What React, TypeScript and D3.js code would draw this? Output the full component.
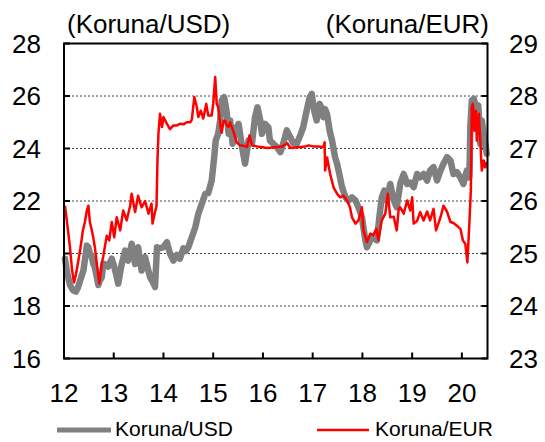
import React from "react";
import * as d3 from "d3";

// Koruna per USD (left axis) — decimal year (two-digit), value
const usdDates = [12.02,12.06,12.12,12.18,12.24,12.28,12.33,12.39,12.46,12.49,12.52,12.56,12.59,12.62,12.69,12.72,12.76,12.79,12.82,12.89,12.96,13.01,13.06,13.09,13.16,13.23,13.29,13.36,13.43,13.49,13.56,13.63,13.69,13.73,13.79,13.83,13.87,13.93,14.00,14.07,14.13,14.20,14.27,14.33,14.40,14.45,14.50,14.57,14.64,14.70,14.77,14.84,14.90,14.97,15.02,15.05,15.10,15.14,15.17,15.22,15.27,15.31,15.34,15.39,15.44,15.51,15.58,15.64,15.71,15.78,15.84,15.89,15.94,15.98,16.04,16.11,16.14,16.21,16.28,16.35,16.41,16.48,16.55,16.61,16.68,16.75,16.81,16.88,16.94,16.98,17.03,17.08,17.14,17.19,17.22,17.25,17.29,17.34,17.39,17.45,17.49,17.55,17.59,17.66,17.72,17.79,17.86,17.92,17.99,18.02,18.06,18.09,18.16,18.22,18.29,18.34,18.39,18.44,18.49,18.56,18.63,18.69,18.76,18.83,18.90,18.96,19.03,19.10,19.16,19.23,19.30,19.36,19.43,19.50,19.57,19.63,19.70,19.77,19.83,19.90,19.97,20.03,20.10,20.15,20.17,20.20,20.24,20.28,20.33,20.37,20.40,20.44,20.50];
const usdValues = [19.8,19.3,18.8,18.6,18.55,18.7,19.0,19.35,20.3,20.24,20.0,19.86,19.6,19.48,18.8,18.97,19.1,19.6,19.6,19.5,19.8,19.5,19.1,18.85,19.6,20.11,19.73,20.37,19.6,20.24,19.35,19.86,19.4,19.1,18.9,18.72,20.24,20.2,20.24,20.43,20.0,19.73,19.95,19.8,20.2,20.1,20.24,20.62,21.0,21.51,21.89,22.27,22.3,22.78,23.67,24.3,24.56,25.07,25.83,25.95,25.4,24.56,25.07,24.18,24.69,24.94,24.05,23.42,24.3,24.2,25.19,25.57,25.13,24.56,24.94,24.8,24.3,24.18,24.05,23.86,24.2,24.69,24.43,24.2,24.18,24.5,24.81,25.45,25.95,26.08,25.45,25.07,25.7,25.5,25.19,25.5,25.3,24.69,24.3,23.67,23.42,22.9,22.53,22.14,22.02,22.14,22.02,21.76,21.38,21.0,20.5,20.24,20.5,20.62,20.5,21.38,22.14,22.4,22.02,22.65,22.02,21.76,22.65,23.03,22.65,22.7,22.53,23.03,22.9,23.03,22.78,23.16,23.29,22.78,23.16,23.42,23.67,23.54,23.03,23.1,22.9,22.65,23.16,22.9,24.81,25.83,25.9,25.57,25.64,24.18,25.07,24.56,23.8];

// Koruna per EUR (right axis)
const eurDates = [12.02,12.06,12.12,12.16,12.20,12.24,12.29,12.33,12.38,12.42,12.46,12.49,12.52,12.56,12.59,12.62,12.66,12.71,12.76,12.79,12.82,12.86,12.91,12.96,13.01,13.06,13.13,13.19,13.26,13.33,13.36,13.43,13.49,13.56,13.63,13.70,13.76,13.78,13.83,13.86,13.88,13.90,13.93,13.97,14.00,14.07,14.13,14.20,14.27,14.33,14.40,14.47,14.54,14.57,14.62,14.67,14.70,14.75,14.80,14.86,14.90,14.97,15.00,15.04,15.07,15.10,15.14,15.17,15.21,15.24,15.27,15.31,15.34,15.37,15.41,15.47,15.54,15.62,15.68,15.73,15.78,15.88,15.96,16.08,16.19,16.29,16.39,16.49,16.55,16.65,16.75,16.85,16.92,17.01,17.11,17.22,17.24,17.25,17.29,17.35,17.42,17.49,17.55,17.62,17.69,17.75,17.79,17.86,17.92,17.99,18.02,18.09,18.16,18.22,18.28,18.32,18.39,18.46,18.51,18.56,18.63,18.69,18.73,18.76,18.83,18.90,18.96,19.00,19.03,19.10,19.16,19.23,19.30,19.36,19.43,19.48,19.57,19.63,19.70,19.77,19.83,19.90,19.97,20.02,20.07,20.11,20.15,20.18,20.20,20.22,20.25,20.28,20.30,20.34,20.37,20.40,20.44,20.47,20.50];
const eurValues = [25.91,25.6,25.12,24.7,24.45,24.6,24.87,25.1,25.44,25.6,25.82,25.91,25.6,25.44,25.3,25.12,24.8,24.43,24.81,24.95,25.12,25.34,25.25,25.6,25.31,25.69,25.44,25.82,25.63,25.91,26.14,25.79,26.1,25.88,26.0,25.76,25.95,25.57,25.79,25.9,26.8,27.3,27.66,27.41,27.6,27.47,27.37,27.44,27.44,27.47,27.46,27.5,27.5,27.55,27.98,27.79,27.6,27.72,27.57,27.85,27.63,27.63,27.85,28.36,27.85,27.79,27.47,27.3,27.53,27.53,27.45,27.41,27.5,27.42,27.31,27.12,27.06,27.05,27.03,27.25,27.06,27.04,27.03,27.01,27.02,27.03,27.04,27.1,27.01,27.02,27.03,27.04,27.06,27.04,27.04,27.03,27.12,26.58,26.83,26.52,26.26,26.14,26.07,26.1,26.01,25.88,25.69,25.57,25.63,25.88,25.44,25.22,25.38,25.35,25.47,25.25,25.63,25.76,26.14,25.69,25.7,25.44,25.85,25.88,25.76,26.01,25.82,26.07,25.57,25.62,25.79,25.63,25.8,25.63,25.85,25.44,25.69,25.91,25.8,25.6,25.58,25.53,25.47,25.25,25.18,24.83,25.57,26.2,27.79,27.85,27.34,27.72,27.15,27.66,27.15,26.58,26.77,26.64,26.74];

const xTicks = [12, 13, 14, 15, 16, 17, 18, 19, 20];
const leftTicks = [16, 18, 20, 22, 24, 26, 28];
const rightTicks = [23, 24, 25, 26, 27, 28, 29];
const leftTitle = "(Koruna/USD)";
const rightTitle = "(Koruna/EUR)";
const seriesNames = ["Koruna/USD", "Koruna/EUR"];

const W = 545, H = 442;
const L = 64, R = 487.5, T = 43.5, B = 358.5;
const FONT = "'Liberation Sans', Arial, sans-serif";

export default function App() {
  const x = d3.scaleLinear().domain([12, 20.515]).range([L, R]);
  const yL = d3.scaleLinear().domain([16, 28]).range([B, T]);
  const yR = d3.scaleLinear().domain([23, 29]).range([B, T]);

  const usd = usdDates.map((d, i) => [d, usdValues[i]] as [number, number]);
  const eur = eurDates.map((d, i) => [d, eurValues[i]] as [number, number]);
  const lineL = d3.line<[number, number]>().x(d => x(d[0])).y(d => yL(d[1]));
  const lineR = d3.line<[number, number]>().x(d => x(d[0])).y(d => yR(d[1]));

  return (
    <svg width={W} height={H} style={{ position: "absolute", left: 0, top: 0 }} fontFamily={FONT}>
      <rect width={W} height={H} fill="#fff" />
      {leftTicks.filter(v => v > 16 && v < 28).map(v => (
        <line key={"g" + v} x1={L} x2={R} y1={yL(v)} y2={yL(v)} stroke="#444" strokeWidth={1} strokeDasharray="2,2" />
      ))}
      {leftTicks.map(v => (
        <line key={"lt" + v} x1={L} x2={L + 6} y1={yL(v)} y2={yL(v)} stroke="#000" strokeWidth={2} />
      ))}
      {rightTicks.map(v => (
        <line key={"rt" + v} x1={R - 6} x2={R} y1={yR(v)} y2={yR(v)} stroke="#000" strokeWidth={2} />
      ))}
      {xTicks.map(v => (
        <line key={"xt" + v} x1={x(v)} x2={x(v)} y1={B} y2={B - 6} stroke="#000" strokeWidth={2} />
      ))}
      <path d={lineL(usd) || ""} fill="none" stroke="#808080" strokeWidth={6.5} strokeLinejoin="round" strokeLinecap="round" />
      <path d={lineR(eur) || ""} fill="none" stroke="#ff0000" strokeWidth={2.5} strokeLinejoin="round" />
      <rect x={L} y={T} width={R - L} height={B - T} fill="none" stroke="#000" strokeWidth={2} />
      {leftTicks.map(v => (
        <text key={"ll" + v} x={41} y={yL(v) + 9} fontSize={26} textAnchor="end" fill="#000">{v}</text>
      ))}
      {rightTicks.map(v => (
        <text key={"rl" + v} x={509} y={yR(v) + 9} fontSize={26} textAnchor="start" fill="#000">{v}</text>
      ))}
      {xTicks.map(v => (
        <text key={"xl" + v} x={x(v)} y={402} fontSize={26} textAnchor="middle" fill="#000">{v}</text>
      ))}
      <text x={67} y={33} fontSize={26} fill="#000">{leftTitle}</text>
      <text x={489} y={33} fontSize={26} textAnchor="end" fill="#000">{rightTitle}</text>
      <line x1={57} x2={111} y1={430} y2={430} stroke="#808080" strokeWidth={5} />
      <text x={115} y={436} fontSize={21} fill="#000">{seriesNames[0]}</text>
      <line x1={317} x2={369} y1={430} y2={430} stroke="#ff0000" strokeWidth={2.5} />
      <text x={375} y={436} fontSize={21} fill="#000">{seriesNames[1]}</text>
    </svg>
  );
}
